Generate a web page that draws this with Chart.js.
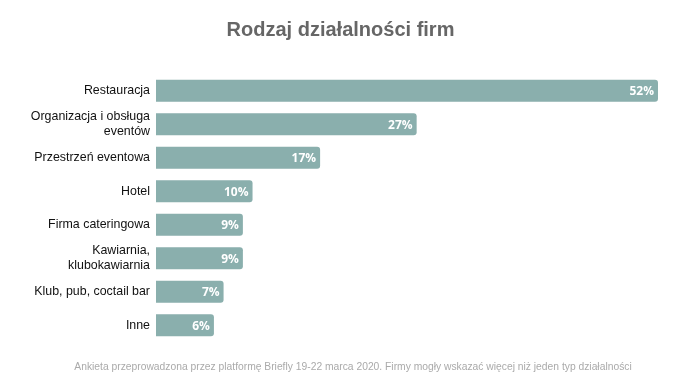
<!DOCTYPE html>
<html><head><meta charset="utf-8">
<script src="https://cdn.jsdelivr.net/npm/chart.js@4"></script>
<style>html,body{margin:0;padding:0;background:#fff}#wrap{width:681px;height:381px}</style>
</head><body><div id="wrap"><canvas id="c" width="681" height="381"></canvas></div>
<script>
const categories = ["Restauracja", ["Organizacja i obsługa", "eventów"], "Przestrzeń eventowa", "Hotel", "Firma cateringowa", ["Kawiarnia,", "klubokawiarnia"], "Klub, pub, coctail bar", "Inne"];
const values = [52, 27, 17, 10, 9, 9, 7, 6];
const titleText = "Rodzaj działalności firm";
const footerText = "Ankieta przeprowadzona przez platformę Briefly 19-22 marca 2020. Firmy mogły wskazać więcej niż jeden typ działalności";

const labelPlugin = {
  id: 'barLabels',
  afterDatasetsDraw(chart) {
    const ctx = chart.ctx;
    const meta = chart.getDatasetMeta(0);
    ctx.save();
    ctx.fillStyle = '#ffffff';
    ctx.font = 'bold 12px "Open Sans", sans-serif';
    ctx.textAlign = 'right';
    ctx.textBaseline = 'middle';
    meta.data.forEach((bar, i) => {
      ctx.fillText(values[i] + '%', bar.x - 4, bar.y + 1);
    });
    ctx.restore();
  }
};
const footerPlugin = {
  id: 'footerNote',
  afterDraw(chart) {
    const ctx = chart.ctx;
    ctx.save();
    ctx.fillStyle = '#aaaaaa';
    ctx.font = '10.3px "Liberation Sans", Arial, sans-serif';
    ctx.textAlign = 'center';
    ctx.textBaseline = 'middle';
    ctx.fillText(footerText, 353, 367);
    ctx.restore();
  }
};

new Chart(document.getElementById('c'), {
  type: 'bar',
  data: { labels: categories, datasets: [{ data: values, backgroundColor: '#8aafad', borderRadius: {topRight: 3, bottomRight: 3, topLeft: 0, bottomLeft: 0}, borderSkipped: false, categoryPercentage: 0.66, barPercentage: 1 }] },
  options: {
    indexAxis: 'y', responsive: false, animation: false,
    layout: { padding: { left: 23, right: 23, top: 0, bottom: 39 } },
    plugins: {
      legend: { display: false }, tooltip: { enabled: false },
      title: { display: true, text: titleText, color: '#666666', font: { family: 'Liberation Sans, Arial, sans-serif', size: 20, weight: 'bold' }, padding: { top: 18, bottom: 32 } }
    },
    scales: {
      x: { display: false, min: 0, max: 52 },
      y: { afterFit(s) { s.width = 133; }, grid: { display: false, drawTicks: false, tickLength: 0 }, border: { display: false }, ticks: { color: '#111', padding: 6, font: { family: 'Liberation Sans, Arial, sans-serif', size: 12.4 } } }
    }
  },
  plugins: [labelPlugin, footerPlugin]
});
</script></body></html>
